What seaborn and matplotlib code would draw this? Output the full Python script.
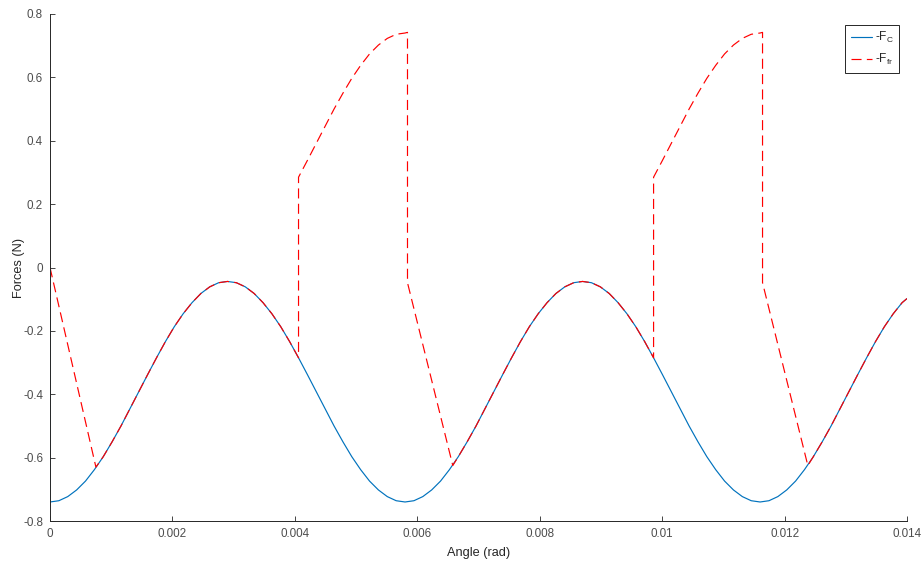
import matplotlib
matplotlib.use("Agg")
import matplotlib.pyplot as plt
import seaborn as sns
import pandas as pd

# -F_C : contact force over the rotation angle (starts from 0 at the origin)
angle_c = [0.0, 0.0, 0.000145, 0.00029, 0.000435, 0.00058, 0.000725, 0.00087, 0.001015,
           0.00116, 0.001305, 0.00145, 0.001595, 0.00174, 0.001885, 0.00203, 0.002175,
           0.00232, 0.002465, 0.00261, 0.002755, 0.0029, 0.003045, 0.00319, 0.003335,
           0.00348, 0.003625, 0.00377, 0.003915, 0.00406, 0.004205, 0.00435, 0.004495,
           0.00464, 0.004785, 0.00493, 0.005075, 0.00522, 0.005365, 0.00551, 0.005655,
           0.0058, 0.005945, 0.00609, 0.006235, 0.00638, 0.006525, 0.00667, 0.006815,
           0.00696, 0.007105, 0.00725, 0.007395, 0.00754, 0.007685, 0.00783, 0.007975,
           0.00812, 0.008265, 0.00841, 0.008555, 0.0087, 0.008845, 0.00899, 0.009135,
           0.00928, 0.009425, 0.00957, 0.009715, 0.00986, 0.010005, 0.01015, 0.010295,
           0.01044, 0.010585, 0.01073, 0.010875, 0.01102, 0.011165, 0.01131, 0.011455,
           0.0116, 0.011745, 0.01189, 0.012035, 0.01218, 0.012325, 0.01247, 0.012615,
           0.01276, 0.012905, 0.01305, 0.013195, 0.01334, 0.013485, 0.01363, 0.013775,
           0.01392, 0.014]
force_c = [0.0, -0.740, -0.736, -0.723, -0.702, -0.674, -0.638, -0.597, -0.550,
           -0.500, -0.446, -0.392, -0.338, -0.285, -0.234, -0.187, -0.146,
           -0.111, -0.082, -0.061, -0.048, -0.044, -0.048, -0.061, -0.082,
           -0.111, -0.146, -0.187, -0.234, -0.285, -0.338, -0.392, -0.446,
           -0.500, -0.550, -0.597, -0.638, -0.674, -0.702, -0.723, -0.736,
           -0.740, -0.736, -0.723, -0.702, -0.674, -0.638, -0.597, -0.550,
           -0.500, -0.446, -0.392, -0.338, -0.285, -0.234, -0.187, -0.146,
           -0.111, -0.082, -0.061, -0.048, -0.044, -0.048, -0.061, -0.082,
           -0.111, -0.146, -0.187, -0.234, -0.285, -0.338, -0.392, -0.446,
           -0.500, -0.550, -0.597, -0.638, -0.674, -0.702, -0.723, -0.736,
           -0.740, -0.736, -0.723, -0.702, -0.674, -0.638, -0.597, -0.550,
           -0.500, -0.446, -0.392, -0.338, -0.285, -0.234, -0.187, -0.146,
           -0.111, -0.098]

# -F_fr : friction force (stick / slip phases)
angle_fr = [0.0, 0.00075, 0.00087, 0.001015, 0.00116, 0.001305, 0.00145, 0.001595,
            0.00174, 0.001885, 0.00203, 0.002175, 0.00232, 0.002465, 0.00261, 0.002755,
            0.0029, 0.003045, 0.00319, 0.003335, 0.00348, 0.003625, 0.00377, 0.003915,
            0.00406, 0.00406, 0.004205, 0.00435, 0.004495, 0.00464, 0.004785, 0.00493,
            0.005075, 0.00522, 0.005365, 0.00551, 0.005655, 0.0058, 0.00584, 0.00584,
            0.00658, 0.00667, 0.006815, 0.00696, 0.007105, 0.00725, 0.007395, 0.00754,
            0.007685, 0.00783, 0.007975, 0.00812, 0.008265, 0.00841, 0.008555, 0.0087,
            0.008845, 0.00899, 0.009135, 0.00928, 0.009425, 0.00957, 0.009715, 0.00986,
            0.00986, 0.010005, 0.01015, 0.010295, 0.01044, 0.010585, 0.01073, 0.010875,
            0.01102, 0.011165, 0.01131, 0.011455, 0.0116, 0.01164, 0.01164, 0.01238,
            0.01247, 0.012615, 0.01276, 0.012905, 0.01305, 0.013195, 0.01334, 0.013485,
            0.01363, 0.013775, 0.01392, 0.014]
force_fr = [0.0, -0.630, -0.597, -0.550, -0.500, -0.446, -0.392, -0.338,
            -0.285, -0.234, -0.187, -0.146, -0.111, -0.082, -0.061, -0.048,
            -0.044, -0.048, -0.061, -0.082, -0.111, -0.146, -0.187, -0.234,
            -0.285, 0.285, 0.338, 0.392, 0.446, 0.500, 0.550, 0.597,
            0.638, 0.674, 0.702, 0.723, 0.736, 0.740, 0.742, -0.048,
            -0.625, -0.597, -0.550, -0.500, -0.446, -0.392, -0.338, -0.285,
            -0.234, -0.187, -0.146, -0.111, -0.082, -0.061, -0.048, -0.044,
            -0.048, -0.061, -0.082, -0.111, -0.146, -0.187, -0.234, -0.285,
            0.285, 0.338, 0.392, 0.446, 0.500, 0.550, 0.597, 0.638,
            0.674, 0.702, 0.723, 0.736, 0.740, 0.742, -0.048, -0.625,
            -0.597, -0.550, -0.500, -0.446, -0.392, -0.338, -0.285, -0.234,
            -0.187, -0.146, -0.111, -0.098]

x_ticks = [0, 0.002, 0.004, 0.006, 0.008, 0.01, 0.012, 0.014]
x_tick_labels = ["0", "0.002", "0.004", "0.006", "0.008", "0.01", "0.012", "0.014"]
y_ticks = [-0.8, -0.6, -0.4, -0.2, 0, 0.2, 0.4, 0.6, 0.8]
y_tick_labels = ["-0.8", "-0.6", "-0.4", "-0.2", "0", "0.2", "0.4", "0.6", "0.8"]

sns.set_theme(style="white")
plt.rcParams["font.family"] = ["Liberation Sans", "DejaVu Sans"]
plt.rcParams["mathtext.fontset"] = "custom"
plt.rcParams["mathtext.rm"] = "Liberation Sans"
plt.rcParams["mathtext.it"] = "Liberation Sans"
plt.rcParams["axes.unicode_minus"] = False

axis_grey = "#262626"
tick_grey = "#4d4d4d"

fig = plt.figure(figsize=(9.22, 5.63), dpi=100)
ax = fig.add_axes([50 / 922, 1 - 521 / 563, 857 / 922, 507 / 563])

df_c = pd.DataFrame({"angle": angle_c, "force": force_c})
df_fr = pd.DataFrame({"angle": angle_fr, "force": force_fr})

sns.lineplot(data=df_c, x="angle", y="force", sort=False, estimator=None,
             color="#0072BD", linewidth=0.85, label="-F$_\\mathrm{C}$", ax=ax)
sns.lineplot(data=df_fr, x="angle", y="force", sort=False, estimator=None,
             color="#FF0000", linewidth=0.85, label="-F$_\\mathrm{fr}$", ax=ax)
ax.lines[-1].set_linestyle((0, (8.5, 4.5)))

ax.set_xlim(0, 0.014)
ax.set_ylim(-0.8, 0.8)
ax.set_xticks(x_ticks)
ax.set_xticklabels(x_tick_labels)
ax.set_yticks(y_ticks)
ax.set_yticklabels(y_tick_labels)

ax.tick_params(direction="in", length=3.6, width=0.6, colors=axis_grey,
               labelcolor=tick_grey, labelsize=8.4, pad=5,
               bottom=True, left=True, top=False, right=False)
for side in ("top", "right"):
    ax.spines[side].set_visible(False)
for side in ("left", "bottom"):
    ax.spines[side].set_color(axis_grey)
    ax.spines[side].set_linewidth(0.7)

ax.set_xlabel("Angle (rad)", fontsize=9.2, color=axis_grey)
ax.set_ylabel("Forces (N)", fontsize=9.2, color=axis_grey)
ax.xaxis.set_label_coords(0.5, -0.052)
ax.yaxis.set_label_coords(-0.029, 0.5)

leg = ax.legend(loc="upper right", bbox_to_anchor=(899 / 922, 1 - 25 / 563),
                bbox_transform=fig.transFigure, fontsize=8.6, frameon=True,
                fancybox=False, edgecolor=axis_grey, framealpha=1,
                handlelength=1.75, handletextpad=0.25, borderpad=0.45,
                labelspacing=0.55, borderaxespad=0)
leg.get_frame().set_linewidth(0.7)
for txt in leg.get_texts():
    txt.set_color(axis_grey)

fig.savefig("out.png", dpi=100)
